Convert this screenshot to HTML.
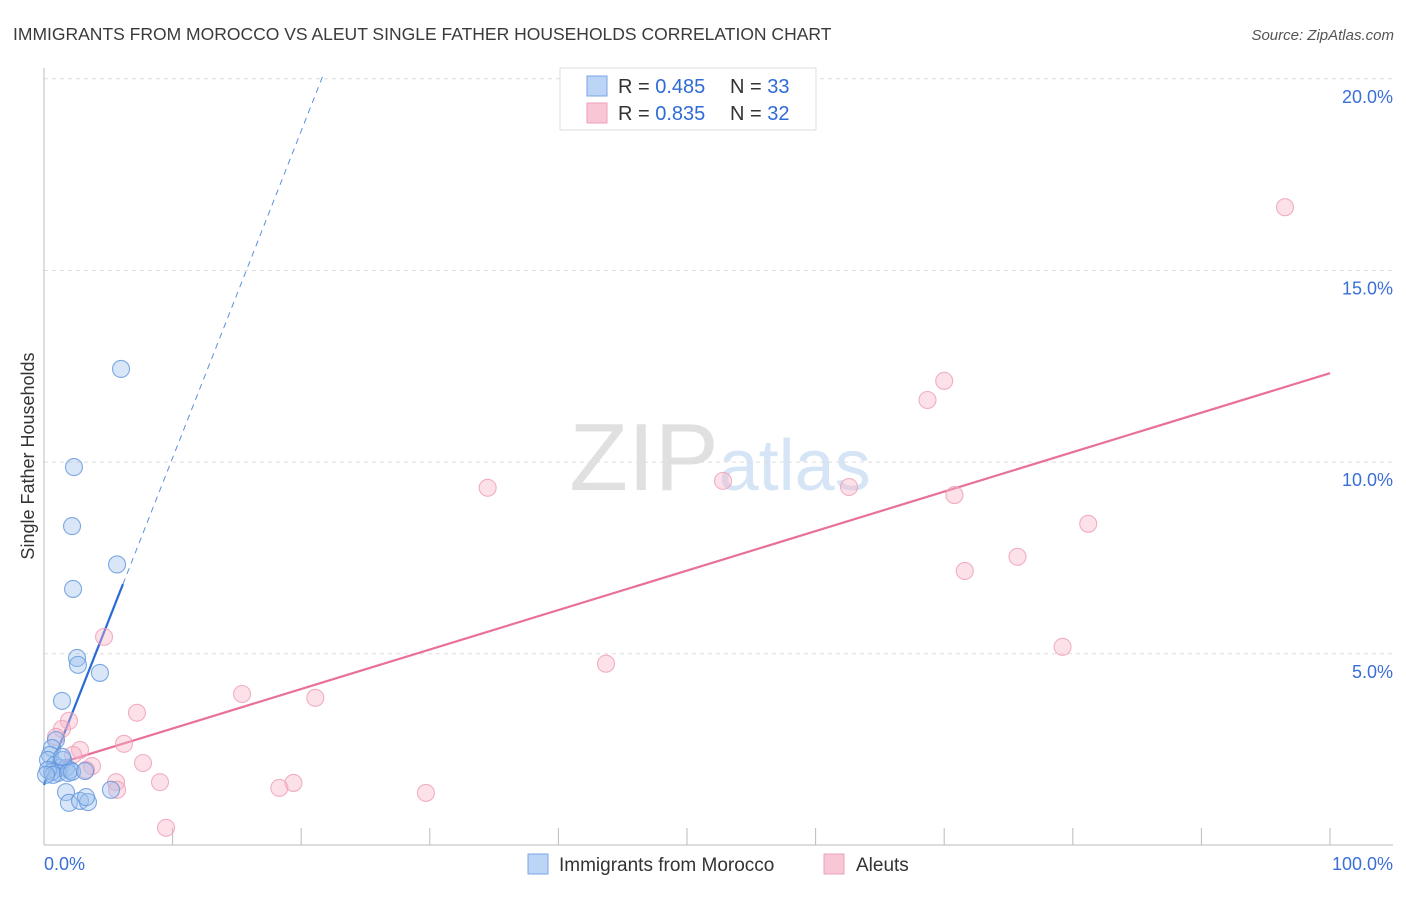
<!DOCTYPE html>
<html><head><meta charset="utf-8"><style>
body{margin:0;background:#fff;font-family:"Liberation Sans",sans-serif}
svg text{font-family:"Liberation Sans",sans-serif}
</style></head><body>
<svg id="chart" width="1406" height="892" xmlns="http://www.w3.org/2000/svg">
<text x="13" y="40" font-size="17.5" fill="#3a3a3a">IMMIGRANTS FROM MOROCCO VS ALEUT SINGLE FATHER HOUSEHOLDS CORRELATION CHART</text>
<text x="1394" y="40" font-size="15" fill="#555" text-anchor="end" font-style="italic">Source: ZipAtlas.com</text>
<text transform="translate(34,456) rotate(-90)" font-size="18" fill="#333" text-anchor="middle">Single Father Households</text>
<text x="720" y="490" font-size="96" text-anchor="middle" fill="#e2e2e2" font-family="Liberation Serif"><tspan fill="#e0e0e0">ZIP</tspan><tspan fill="#d6e5f6" font-family="Liberation Sans" font-size="72">atlas</tspan></text>
<g id="grid"></g><g id="axes"></g><g id="lines"></g><g id="pts"></g>
<g>
<rect x="560" y="68" width="256" height="62" fill="#fff" stroke="#ddd"/>
<rect x="587" y="76" width="20" height="20" fill="#bcd4f5" stroke="#7aa6e6"/>
<rect x="587" y="103" width="20" height="20" fill="#f9c6d5" stroke="#eea0b8"/>
<text x="618" y="93" font-size="20" fill="#333">R = <tspan fill="#2f6bd6">0.485</tspan></text>
<text x="730" y="93" font-size="20" fill="#333">N = <tspan fill="#2f6bd6">33</tspan></text>
<text x="618" y="120" font-size="20" fill="#333">R = <tspan fill="#2f6bd6">0.835</tspan></text>
<text x="730" y="120" font-size="20" fill="#333">N = <tspan fill="#2f6bd6">32</tspan></text>
</g>
<g>
<rect x="528" y="854" width="20" height="20" fill="#bcd4f5" stroke="#7aa6e6"/>
<text x="559" y="871" font-size="19" fill="#333">Immigrants from Morocco</text>
<rect x="824" y="854" width="20" height="20" fill="#f9c6d5" stroke="#eea0b8"/>
<text x="856" y="871" font-size="19" fill="#333">Aleuts</text>
</g>
</svg>
<script>
const yTicks=[5,10,15,20];
const yTickLabels=["5.0%","10.0%","15.0%","20.0%"];
const xTicks=[0,10,20,30,40,50,60,70,80,90,100];
const blueX=[5.99,2.33,2.18,2.26,5.68,2.57,2.64,4.35,1.40,0.93,0.62,0.47,0.31,0.86,1.24,1.71,2.02,1.48,1.09,0.62,0.31,0.70,1.87,2.18,3.19,1.71,1.94,2.80,3.42,3.27,5.21,0.16,1.40];
const blueY=[12.43,9.87,8.33,6.69,7.33,4.89,4.71,4.50,3.77,2.75,2.54,2.36,2.23,2.10,2.02,2.02,1.97,2.23,1.89,1.92,1.97,1.84,1.89,1.92,1.94,1.39,1.11,1.16,1.13,1.26,1.45,1.84,2.31];
const pinkX=[96.5,70.0,68.7,34.5,52.8,62.6,70.8,81.2,75.7,71.6,79.2,43.7,4.67,15.4,21.1,7.23,1.94,1.40,0.93,6.22,2.80,2.26,3.73,7.70,3.27,9.02,5.60,19.4,18.3,29.7,5.68,9.49];
const pinkY=[16.65,12.12,11.62,9.33,9.51,9.35,9.14,8.39,7.53,7.16,5.18,4.74,5.44,3.95,3.85,3.46,3.25,3.04,2.83,2.65,2.49,2.36,2.07,2.15,1.97,1.65,1.65,1.63,1.50,1.37,1.45,0.46];
const blueTrend=[1.58,0.853]; // intercept, slope
const pinkTrend=[2.02,0.103];
const NS="http://www.w3.org/2000/svg";
const sx=v=>44+v*12.86, sy=v=>845.4-v*38.33;
function mk(tag,attrs,parent){const e=document.createElementNS(NS,tag);for(const k in attrs)e.setAttribute(k,attrs[k]);document.getElementById(parent).appendChild(e);return e;}
yTicks.forEach((t,i)=>{
 const l=mk('line',{x1:44,x2:1393,y1:sy(t),y2:sy(t),stroke:'#ddd','stroke-dasharray':'4,4'},'grid');
 
 
 const tx=mk('text',{x:1393,y:sy(t)+24,'font-size':18,fill:'#3a6fd8','text-anchor':'end'},'grid');
 tx.textContent=yTickLabels[i];
 
 
});
const ax=mk('line',{x1:44,x2:44,y1:68,y2:845,stroke:'#bbb'},'axes');


const bx=mk('line',{x1:44,x2:1393,y1:845,y2:845,stroke:'#bbb'},'axes');


xTicks.forEach(t=>{
 const l=mk('line',{x1:sx(t),x2:sx(t),y1:828,y2:845,stroke:'#bbb'},'axes');
 
 
});
[[0,"0.0%","start",44],[100,"100.0%","end",1393]].forEach(a=>{
 const tx=mk('text',{x:a[3],y:870,'font-size':18,fill:'#3a6fd8','text-anchor':a[2]},'axes');
 tx.textContent=a[1];
 
 
});
function pts(X,Y,fill,stroke,name){X.forEach((x,i)=>{
 const c=mk('circle',{cx:sx(x),cy:sy(Y[i]),r:8.5,fill:fill,'fill-opacity':0.4,stroke:stroke,'stroke-width':1.1,'stroke-opacity':0.8},'pts');
 
 
});}
pts(pinkX,pinkY,'#f7b3c8','#ee9db5','aleut-point');
pts(blueX,blueY,'#9dc0ee','#5f95dc','morocco-point');
const bEnd=6.14, bDash=(20.1-blueTrend[0])/blueTrend[1];
let l=mk('line',{x1:sx(0),y1:sy(blueTrend[0]),x2:sx(bEnd),y2:sy(blueTrend[0]+blueTrend[1]*bEnd),stroke:'#2a6ad6','stroke-width':2.2},'lines');


l=mk('line',{x1:sx(bEnd),y1:sy(blueTrend[0]+blueTrend[1]*bEnd),x2:sx(bDash),y2:sy(blueTrend[0]+blueTrend[1]*bDash),stroke:'#5a8fe0','stroke-width':1,'stroke-dasharray':'6,5'},'lines');


l=mk('line',{x1:sx(1.2),y1:sy(pinkTrend[0]+pinkTrend[1]*1.2),x2:sx(100),y2:sy(pinkTrend[0]+pinkTrend[1]*100),stroke:'#e8709a','stroke-width':2.2},'lines');


</script>
</body></html>
